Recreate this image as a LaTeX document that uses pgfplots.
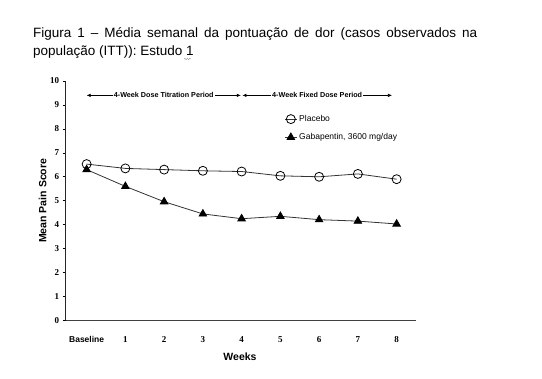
\documentclass[border=0pt]{standalone}
\usepackage{pgfplots}
\pgfplotsset{compat=1.18}
\usepackage{fontspec}
\setmainfont{Liberation Sans}
\newfontfamily\serifb{Liberation Serif}
\usetikzlibrary{arrows.meta,decorations.pathmorphing}
\pgfplotstableread{
x placebo gaba
0 6.53 6.30
1 6.35 5.60
2 6.30 4.96
3 6.25 4.45
4 6.22 4.25
5 6.04 4.35
6 6.00 4.21
7 6.12 4.15
8 5.90 4.03
}\datatab
\begin{document}
\begin{tikzpicture}
\begin{axis}[
  name=ax, at={(0pt,0pt)}, anchor=south west,
  scale only axis, width=350.3pt, height=239.5pt,
  xmin=-0.54, xmax=8.5, ymin=0, ymax=10,
  axis x line=bottom, axis y line=left,
  axis line style={-},
  x axis line style={line width=1.4pt, black!75},
  y axis line style={line width=0.7pt, black!85},
  xtick={0,...,8},
  xticklabels={{\normalfont\bfseries\fontsize{8.5}{9}\selectfont Baseline},1,2,3,4,5,6,7,8},
  ytick={0,...,10},
  xtick style={draw=none},
  ytick style={black, line width=0.6pt},
  tick align=outside, major tick length=3pt,
  /pgf/number format/assume math mode=true,
  tick label style={font=\serifb\bfseries\fontsize{9}{9}\selectfont},
  xticklabel style={anchor=base, yshift=-19pt},
  ylabel={Mean Pain Score},
  xlabel={Weeks},
  label style={font=\bfseries\fontsize{10.5}{12}\selectfont},
  ylabel style={at={(axis description cs:-0.0657,0.5)}, anchor=center},
  xlabel style={at={(axis description cs:0.4976,-0.152)}, anchor=center},
  legend style={at={(axis cs:5.1,8.66)}, anchor=north west, draw=none, fill=none,
    font=\fontsize{8.5}{10}\selectfont, row sep=6.5pt, inner sep=0pt,
    legend cell align=left},
  legend image code/.code={\draw[mark repeat=2,mark phase=2,#1] plot coordinates {(0pt,0pt) (6pt,0pt) (12pt,0pt)};},
  clip=false,
]
\addplot[black!80, line width=0.8pt, mark=o, mark size=4.5pt, mark options={fill=white, black, line width=0.8pt}] table[x=x,y=placebo] {\datatab};
\addlegendentry{Placebo}
\addplot[black!80, line width=0.8pt, mark=triangle*, mark size=4.3pt, mark options={fill=black, black}] table[x=x,y=gaba] {\datatab};
\addlegendentry{Gabapentin, 3600 mg/day}
\draw[black, line width=0.6pt, {Latex[length=4pt,width=3.5pt]}-{Latex[length=4pt,width=3.5pt]}] (axis cs:0,9.4) -- (axis cs:3.98,9.4)
  node[midway, fill=white, inner sep=1pt, font=\bfseries\fontsize{7.2}{8}\selectfont] {4-Week Dose Titration Period};
\draw[black, line width=0.6pt, {Latex[length=4pt,width=3.5pt]}-{Latex[length=4pt,width=3.5pt]}] (axis cs:4.02,9.4) -- (axis cs:7.88,9.4)
  node[midway, fill=white, inner sep=1pt, font=\bfseries\fontsize{7.2}{8}\selectfont] {4-Week Fixed Dose Period};
\end{axis}
\node[anchor=base west, inner sep=0] at ([shift={(-32.7pt,282.5pt)}]ax.south west) {\fontsize{13.5}{16}\selectfont\makebox[444pt][s]{Figura 1 – Média semanal da pontuação de dor (casos observados na}};
\node[anchor=base west, inner sep=0] at ([shift={(-32.7pt,265pt)}]ax.south west) {\fontsize{13.5}{16}\selectfont população (ITT)): Estudo 1};
\draw[gray!70, line width=0.5pt, decorate, decoration={snake, amplitude=0.8pt, segment length=2.5pt}] ([shift={(118.3pt,261.5pt)}]ax.south west) -- ++(7pt,0pt);
\pgfresetboundingbox
\useasboundingbox ([shift={(-65.7pt,-58.5pt)}]ax.south west) rectangle ([shift={(476.3pt,320.5pt)}]ax.south west);
\end{tikzpicture}
\end{document}
